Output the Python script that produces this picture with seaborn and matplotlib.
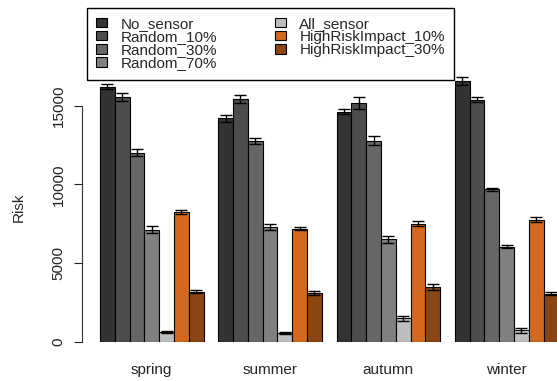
'''risk per season for each sensor placement strategy, R-style grouped bars'''
import pandas as pd
import matplotlib
matplotlib.use("Agg")
import matplotlib.pyplot as plt
import seaborn as sns

sns.set_theme(style="white")
plt.rcParams['font.family'] = ['Liberation Sans', 'DejaVu Sans']

seasons = ['spring', 'summer', 'autumn', 'winter']
strategies = ['No_sensor', 'Random_10%', 'Random_30%', 'Random_70%',
              'All_sensor', 'HighRiskImpact_10%', 'HighRiskImpact_30%']
colors = ['#333333', '#4d4d4d', '#666666', '#808080',
          '#bebebe', '#d2691e', '#8b4513']

# mean risk, one list per strategy (spring, summer, autumn, winter)
no_sensor = [16210, 14200, 14620, 16590]
random_10 = [15575, 15430, 15155, 15365]
random_30 = [12015, 12760, 12760, 9680]
random_70 = [7120, 7290, 6510, 6040]
all_sensor = [600, 530, 1505, 725]
hri_10 = [8245, 7185, 7500, 7755]
hri_30 = [3180, 3095, 3500, 3050]

# error bar half-widths
err_no = [170, 210, 160, 245]
err_r10 = [265, 230, 380, 160]
err_r30 = [220, 210, 285, 100]
err_r70 = [230, 160, 210, 105]
err_all = [60, 60, 160, 160]
err_h10 = [130, 115, 150, 150]
err_h30 = [100, 105, 190, 105]

means = [no_sensor, random_10, random_30, random_70, all_sensor, hri_10, hri_30]
errs = [err_no, err_r10, err_r30, err_r70, err_all, err_h10, err_h30]

rows = []
for s, vals, ers in zip(strategies, means, errs):
    for season, v, e in zip(seasons, vals, ers):
        rows.append({'Season': season, 'Strategy': s, 'Risk': v, 'err': e})
df = pd.DataFrame(rows)

fig = plt.figure(figsize=(5.57, 3.81), dpi=100)
W, H = 557, 381
ax_left, ax_bottom = 82.3, 341.7
ax = fig.add_axes([ax_left / W, (H - ax_bottom) / H, (W - ax_left) / W, ax_bottom / H])

sns.barplot(data=df, x='Season', y='Risk', hue='Strategy', order=seasons,
            hue_order=strategies, palette=dict(zip(strategies, colors)),
            saturation=1, width=0.875, gap=0, errorbar=None,
            edgecolor='black', linewidth=0.8, ax=ax)

for cont, s in zip(ax.containers, strategies):
    sub = df[df['Strategy'] == s].set_index('Season').loc[seasons]
    xs = [b.get_x() + b.get_width() / 2 for b in cont]
    ax.errorbar(xs, sub['Risk'], yerr=sub['err'], fmt='none', ecolor='black',
                elinewidth=1, capsize=4.5, capthick=1, zorder=5)

ax.set_xlim(-0.587, 3.4256)
ax.set_ylim(0, 21720)
ax.set_yticks([0, 5000, 10000, 15000])
ax.set_yticklabels(['0', '5000', '10000', '15000'], rotation=90, va='center')
ax.tick_params(axis='y', direction='out', length=6, width=0.8, pad=6,
               labelsize=11, colors='#222222', left=True)
ax.tick_params(axis='x', length=0, pad=15, labelsize=11)
for side in ['top', 'right', 'bottom']:
    ax.spines[side].set_visible(False)
ax.spines['left'].set_bounds(0, 15000)
ax.spines['left'].set_color('#333333')
ax.spines['left'].set_linewidth(0.8)
ax.set_xlabel('')
ax.set_ylabel('Risk', fontsize=11)
ax.yaxis.set_label_coords(-0.12, 0.394)

handles, labels = ax.get_legend_handles_labels()
for h in handles:
    h.set_edgecolor('black')
leg = ax.legend(handles, labels, ncol=2, loc='upper left',
                bbox_to_anchor=(87 / W, 1 - 8 / H), bbox_transform=fig.transFigure,
                borderaxespad=0, fontsize=11, frameon=True, fancybox=False,
                edgecolor='black', framealpha=1, borderpad=0.6,
                handlelength=0.72, handleheight=0.55, handletextpad=0.9,
                columnspacing=3.75, labelspacing=-0.06)
leg.get_frame().set_linewidth(1)

fig.savefig('out.png', dpi=100)
